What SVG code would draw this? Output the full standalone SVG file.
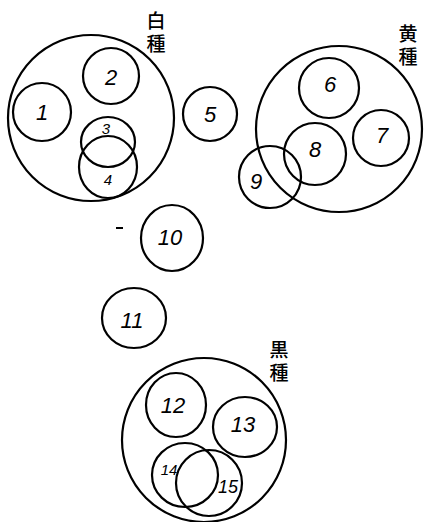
<svg xmlns="http://www.w3.org/2000/svg" width="433" height="522" viewBox="0 0 433 522">
<style>
.c{fill:none;stroke:#000;stroke-width:2.2}
.n{font-family:"Liberation Sans",sans-serif;font-style:italic;font-size:22px;text-anchor:middle;dominant-baseline:central;fill:#000}
.s{font-size:15px}
.m{font-size:18px}
.j{font-family:"Noto Sans CJK JP","Noto Sans CJK SC",sans-serif;font-size:19px;font-weight:500;writing-mode:vertical-rl;letter-spacing:4px;fill:#000}
</style>
<rect width="433" height="522" fill="#fff"/>
<g id="connectors"/>
<g id="white-race">
<circle class="c" cx="91" cy="118" r="83"/>
<text class="j" x="156" y="11">白種</text>
</g>
<g id="n1"><circle class="c" cx="42" cy="112" r="29"/><text class="n" x="42" y="112">1</text></g>
<g id="n2"><circle class="c" cx="111" cy="76" r="28"/><text class="n" x="111" y="77">2</text></g>
<g id="n3"><ellipse class="c" cx="108" cy="142" rx="27" ry="25"/><text class="n s" x="106" y="128">3</text></g>
<g id="n4"><ellipse class="c" cx="108" cy="167" rx="29" ry="31"/><text class="n s" x="108" y="179">4</text></g>
<g id="n5"><circle class="c" cx="210" cy="114" r="27"/><text class="n" x="210" y="114">5</text></g>
<g id="yellow-race">
<circle class="c" cx="339" cy="129" r="83"/>
<text class="j" x="408" y="24">黄種</text>
</g>
<g id="n6"><circle class="c" cx="329" cy="88" r="30"/><text class="n" x="330" y="84">6</text></g>
<g id="n7"><circle class="c" cx="381" cy="138" r="28"/><text class="n" x="382" y="135">7</text></g>
<g id="n8"><circle class="c" cx="315" cy="154" r="31"/><text class="n" x="315" y="149">8</text></g>
<g id="n9"><circle class="c" cx="270" cy="177" r="31"/><text class="n" x="256" y="181">9</text></g>
<g id="dash"><line x1="116" y1="228" x2="123" y2="228" stroke="#000" stroke-width="2"/></g>
<g id="n10"><ellipse class="c" cx="172" cy="238" rx="31" ry="33"/><text class="n" x="170" y="237">10</text></g>
<g id="n11"><ellipse class="c" cx="134" cy="318" rx="32" ry="30"/><text class="n" x="132" y="320">11</text></g>
<g id="black-race">
<circle class="c" cx="204" cy="440" r="82"/>
<text class="j" x="279" y="340">黒種</text>
</g>
<g id="n12"><ellipse class="c" cx="176" cy="405" rx="30" ry="32"/><text class="n" x="173" y="405">12</text></g>
<g id="n13"><ellipse class="c" cx="245" cy="427" rx="32" ry="30"/><text class="n" x="243" y="424">13</text></g>
<g id="n14"><ellipse class="c" cx="185" cy="475" rx="33" ry="32"/><text class="n s" x="169" y="469">14</text></g>
<g id="n15"><circle class="c" cx="209" cy="483" r="33"/><text class="n m" x="228" y="487">15</text></g>
</svg>
